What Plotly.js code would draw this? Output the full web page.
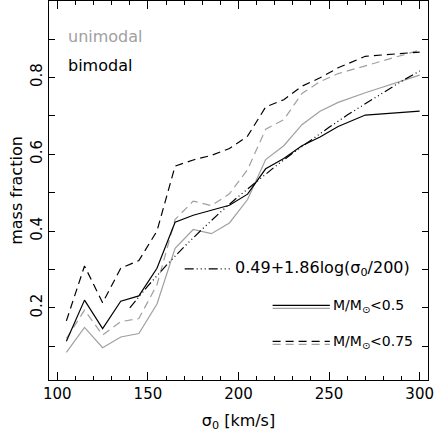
<!DOCTYPE html>
<html>
<head>
<meta charset="utf-8">
<script src="https://cdn.plot.ly/plotly-3.0.1.min.js"></script>
<style>
  body { margin: 0; background: #fff; }
  #chart { width: 436px; height: 442px; }
</style>
</head>
<body>
<div id="chart"></div>
<script>
// sigma_0 bins (km/s)
const sigma = [105, 115, 125, 135, 145, 155, 165, 175, 185, 195, 205, 215, 225, 235, 245, 255, 270, 300];

// bimodal (black)
const bimodal05 = [0.113, 0.220, 0.146, 0.217, 0.231, 0.303, 0.423, 0.441, 0.454, 0.467, 0.496, 0.562, 0.589, 0.622, 0.645, 0.672, 0.702, 0.712];
const bimodal075 = [0.166, 0.309, 0.213, 0.303, 0.323, 0.400, 0.569, 0.585, 0.597, 0.615, 0.647, 0.723, 0.742, 0.777, 0.799, 0.825, 0.855, 0.866];

// unimodal (grey)
const unimodal05 = [0.084, 0.149, 0.096, 0.124, 0.133, 0.210, 0.355, 0.404, 0.393, 0.421, 0.482, 0.586, 0.622, 0.677, 0.712, 0.735, 0.760, 0.806];
const unimodal075 = [0.120, 0.194, 0.129, 0.164, 0.172, 0.260, 0.430, 0.478, 0.466, 0.497, 0.560, 0.665, 0.690, 0.758, 0.789, 0.810, 0.830, 0.871];

// fit line
const fitSigma = [140, 150, 160, 170, 180, 190, 200, 210, 220, 230, 240, 250, 260, 270, 280, 290, 300];
const fitValues = [0.200, 0.257, 0.310, 0.359, 0.405, 0.449, 0.490, 0.529, 0.567, 0.603, 0.637, 0.670, 0.702, 0.732, 0.762, 0.790, 0.817];

const grey = '#a0a0a0';
const dashDotDot = '9px,3px,1px,3px,1px,3px,1px,3px';
const font = 'DejaVu Sans, sans-serif';

const traces = [
    { x: sigma, y: unimodal05, mode: 'lines', line: { color: grey, width: 1.2 } },
    { x: sigma, y: unimodal075, mode: 'lines', line: { color: grey, width: 1.2, dash: '8px,5px' } },
    { x: sigma, y: bimodal05, mode: 'lines', line: { color: 'black', width: 1.2 } },
    { x: sigma, y: bimodal075, mode: 'lines', line: { color: 'black', width: 1.2, dash: '8px,5px' } },
    { x: fitSigma, y: fitValues, mode: 'lines', line: { color: 'black', width: 1.2, dash: dashDotDot } }
];

// legend samples drawn by hand (paper coords)
const shapes = [
    { type: 'line', xref: 'paper', yref: 'paper', x0: 0.358, x1: 0.482, y0: 0.293, y1: 0.293, line: { color: 'black', width: 1.2, dash: dashDotDot } },
    { type: 'line', xref: 'paper', yref: 'paper', x0: 0.59, x1: 0.741, y0: 0.197, y1: 0.197, line: { color: 'black', width: 1.2 } },
    { type: 'line', xref: 'paper', yref: 'paper', x0: 0.59, x1: 0.741, y0: 0.189, y1: 0.189, line: { color: grey, width: 1.2 } },
    { type: 'line', xref: 'paper', yref: 'paper', x0: 0.59, x1: 0.741, y0: 0.102, y1: 0.102, line: { color: 'black', width: 1.2, dash: '8px,5px' } },
    { type: 'line', xref: 'paper', yref: 'paper', x0: 0.59, x1: 0.741, y0: 0.094, y1: 0.094, line: { color: grey, width: 1.2, dash: '8px,5px' } }
];

const annotations = [
    { text: 'unimodal', x: 0.046, y: 0.906, font: { color: grey, size: 16 } },
    { text: 'bimodal', x: 0.046, y: 0.829, font: { color: 'black', size: 16 } },
    { text: '0.49+1.86log(σ<sub>0</sub>/200)', x: 0.486, y: 0.293, font: { color: 'black', size: 16 } },
    { text: 'M/M<sub>⊙</sub><0.5', x: 0.744, y: 0.195, font: { color: 'black', size: 14 } },
    { text: 'M/M<sub>⊙</sub><0.75', x: 0.744, y: 0.100, font: { color: 'black', size: 14 } }
].map(a => Object.assign({ xref: 'paper', yref: 'paper', xanchor: 'left', yanchor: 'middle', showarrow: false }, a));

const axisCommon = {
    showline: true, linecolor: 'black', linewidth: 1, mirror: 'allticks',
    ticks: 'inside', ticklen: 8, tickcolor: 'black', tickwidth: 1,
    showgrid: false, zeroline: false,
    tickfont: { family: font, size: 15, color: 'black' }
};

const layout = {
    width: 436, height: 442,
    margin: { l: 49, r: 8, t: 1, b: 62 },
    paper_bgcolor: 'white', plot_bgcolor: 'white',
    showlegend: false,
    font: { family: font, color: 'black' },
    xaxis: Object.assign({}, axisCommon, {
        range: [95.4, 304.6], dtick: 50, tick0: 100,
        minor: { dtick: 10, ticklen: 4, ticks: 'inside', tickcolor: 'black' },
        title: { text: 'σ<sub>0</sub> [km/s]', font: { family: font, size: 16 }, standoff: 12 }
    }),
    yaxis: Object.assign({}, axisCommon, {
        range: [0.012, 0.999], dtick: 0.2, tick0: 0, tickangle: -90,
        ticklen: 6,
        minor: { dtick: 0.1, ticklen: 6, ticks: 'inside', tickcolor: 'black' },
        title: { text: 'mass fraction', font: { family: font, size: 16 }, standoff: 1 }
    }),
    shapes: shapes,
    annotations: annotations
};

Plotly.newPlot('chart', traces, layout, { displayModeBar: false, staticPlot: true });
</script>
</body>
</html>
